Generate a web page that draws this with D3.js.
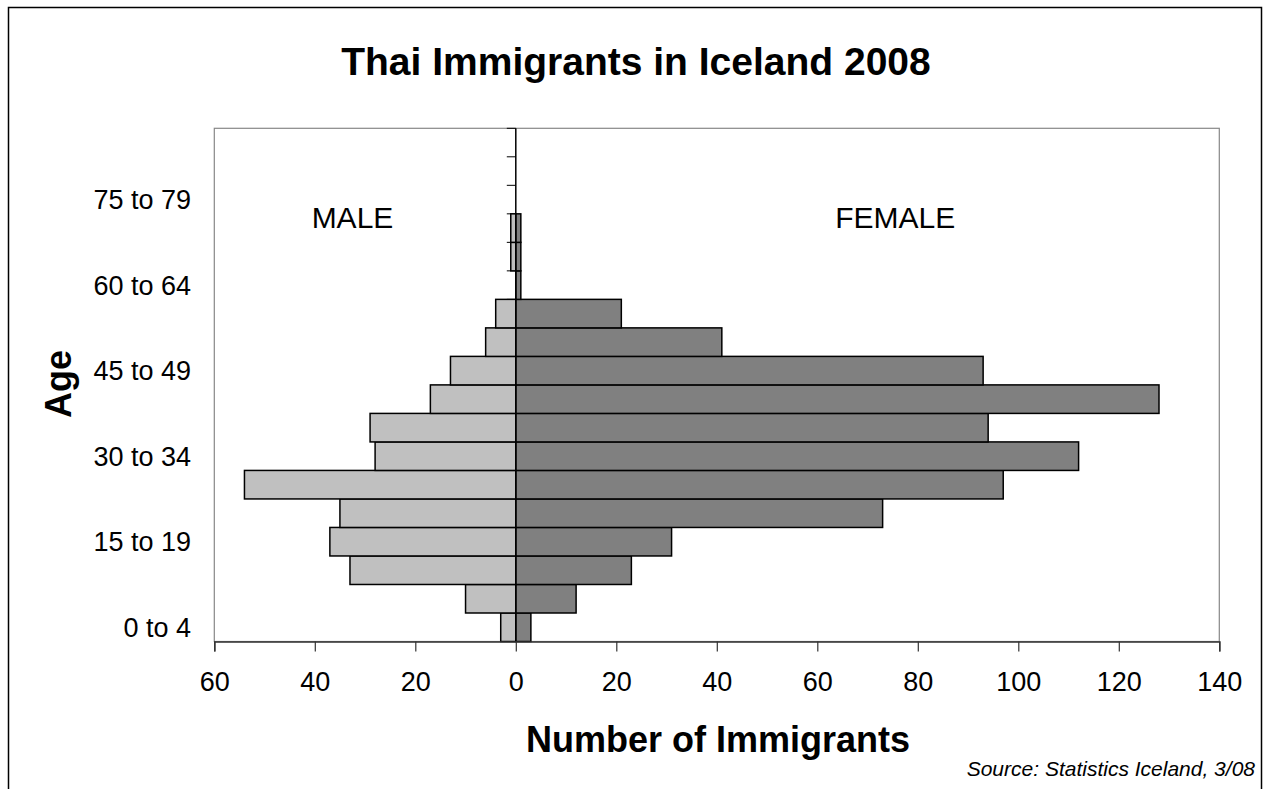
<!DOCTYPE html>
<html>
<head>
<meta charset="utf-8">
<script src="https://cdn.jsdelivr.net/npm/d3@7"></script>
<style>
  body { margin: 0; background: #fff; }
  #chart { width: 1268px; height: 789px; }
  text { font-family: "Liberation Sans", Arial, sans-serif; fill: #000; }
</style>
</head>
<body>
<div id="chart"></div>
<script>
var ageGroups = ["0 to 4", "5 to 9", "10 to 14", "15 to 19", "20 to 24", "25 to 29",
    "30 to 34", "35 to 39", "40 to 44", "45 to 49", "50 to 54", "55 to 59",
    "60 to 64", "65 to 69", "70 to 74", "75 to 79", "80 to 84", "85 to 89"];
var maleValues   = [3, 10, 33, 37, 35, 54, 28, 29, 17, 13, 6, 4, 0, 1, 1, 0, 0, 0];
var femaleValues = [3, 12, 23, 31, 73, 97, 112, 94, 128, 93, 41, 21, 1, 1, 1, 0, 0, 0];
var shownAgeLabels = ["0 to 4", "15 to 19", "30 to 34", "45 to 49", "60 to 64", "75 to 79"];
var xTicks = [-60, -40, -20, 0, 20, 40, 60, 80, 100, 120, 140];

var width = 1268, height = 789;
var plotLeft = 214.3, plotRight = 1219.3, plotTop = 128.3, plotBottom = 641.5;

var svg = d3.select("#chart")
    .append("svg")
    .attr("width", width)
    .attr("height", height);

// outer chart border (runs off the bottom of the picture)
svg.append("rect")
    .attr("x", 8.5).attr("y", 7.5)
    .attr("width", 1253).attr("height", 800)
    .attr("fill", "white")
    .attr("stroke", "#000")
    .attr("stroke-width", 1.5);

var x = d3.scaleLinear().domain([-60, 140]).range([plotLeft, plotRight]);
var y = d3.scaleBand().domain(ageGroups).range([plotBottom, plotTop]).padding(0);

// plot area frame
svg.append("rect")
    .attr("x", plotLeft).attr("y", plotTop)
    .attr("width", plotRight - plotLeft).attr("height", plotBottom - plotTop)
    .attr("fill", "white")
    .attr("stroke", "#888")
    .attr("stroke-width", 1.2);

var data = ageGroups.map(function(a, i) {
    return { age: a, male: maleValues[i], female: femaleValues[i] };
});

// category ticks on the zero axis
var bounds = d3.range(ageGroups.length + 1).map(function(i) { return plotBottom - i * y.bandwidth(); });
svg.append("g")
    .selectAll("line")
    .data(bounds)
    .enter()
    .append("line")
        .attr("x1", x(0) - 9).attr("x2", x(0))
        .attr("y1", function(d) { return d; })
        .attr("y2", function(d) { return d; })
        .attr("stroke", "#000")
        .attr("stroke-width", 1);

svg.append("g")
    .selectAll("rect")
    .data(data.filter(function(d) { return d.male > 0; }))
    .enter()
    .append("rect")
        .attr("x", function(d) { return x(-d.male); })
        .attr("y", function(d) { return y(d.age); })
        .attr("width", function(d) { return x(0) - x(-d.male); })
        .attr("height", y.bandwidth())
        .attr("fill", "#c0c0c0")
        .attr("stroke", "#000")
        .attr("stroke-width", 1.5);

svg.append("g")
    .selectAll("rect")
    .data(data.filter(function(d) { return d.female > 0; }))
    .enter()
    .append("rect")
        .attr("x", x(0))
        .attr("y", function(d) { return y(d.age); })
        .attr("width", function(d) { return x(d.female) - x(0); })
        .attr("height", y.bandwidth())
        .attr("fill", "#808080")
        .attr("stroke", "#000")
        .attr("stroke-width", 1.5);

// zero (category) axis line
svg.append("line")
    .attr("x1", x(0)).attr("x2", x(0))
    .attr("y1", plotTop).attr("y2", plotBottom)
    .attr("stroke", "#000")
    .attr("stroke-width", 1.5);

// x axis
var xAxis = svg.append("g")
    .attr("transform", "translate(0," + plotBottom + ")")
    .call(d3.axisBottom(x).tickValues(xTicks).tickSize(10).tickPadding(20)
        .tickFormat(function(d) { return Math.abs(d); }));
xAxis.select(".domain").attr("stroke", "#333").attr("stroke-width", 1.5);
xAxis.selectAll(".tick line").attr("stroke", "#333").attr("stroke-width", 1.2);
xAxis.selectAll(".tick text")
    .attr("font-size", "27px")
    .attr("font-family", "Liberation Sans, Arial, sans-serif")
    .attr("fill", "#000")
    .attr("dy", "0.71em");

// age labels
svg.append("g")
    .selectAll("text")
    .data(shownAgeLabels)
    .enter()
    .append("text")
        .attr("x", 191)
        .attr("y", function(d) { return y(d) + y.bandwidth() / 2; })
        .attr("dy", "0.36em")
        .attr("text-anchor", "end")
        .attr("font-size", "27px")
        .text(function(d) { return d; });

svg.append("text")
    .attr("x", x(-32.5))
    .attr("y", y("75 to 79") + y.bandwidth() + 14)
    .attr("text-anchor", "middle")
    .attr("font-size", "30px")
    .text("MALE");

svg.append("text")
    .attr("x", x(75.5))
    .attr("y", y("75 to 79") + y.bandwidth() + 14)
    .attr("text-anchor", "middle")
    .attr("font-size", "30px")
    .text("FEMALE");

svg.append("text")
    .attr("x", 636)
    .attr("y", 75)
    .attr("text-anchor", "middle")
    .attr("font-size", "39px")
    .attr("font-weight", "bold")
    .text("Thai Immigrants in Iceland 2008");

svg.append("text")
    .attr("x", 718)
    .attr("y", 752)
    .attr("text-anchor", "middle")
    .attr("font-size", "36px")
    .attr("font-weight", "bold")
    .text("Number of Immigrants");

svg.append("text")
    .attr("transform", "translate(71,384) rotate(-90)")
    .attr("text-anchor", "middle")
    .attr("font-size", "36px")
    .attr("font-weight", "bold")
    .text("Age");

svg.append("text")
    .attr("x", 1255)
    .attr("y", 776)
    .attr("text-anchor", "end")
    .attr("font-size", "21px")
    .attr("font-style", "italic")
    .text("Source: Statistics Iceland, 3/08");
</script>
</body>
</html>
